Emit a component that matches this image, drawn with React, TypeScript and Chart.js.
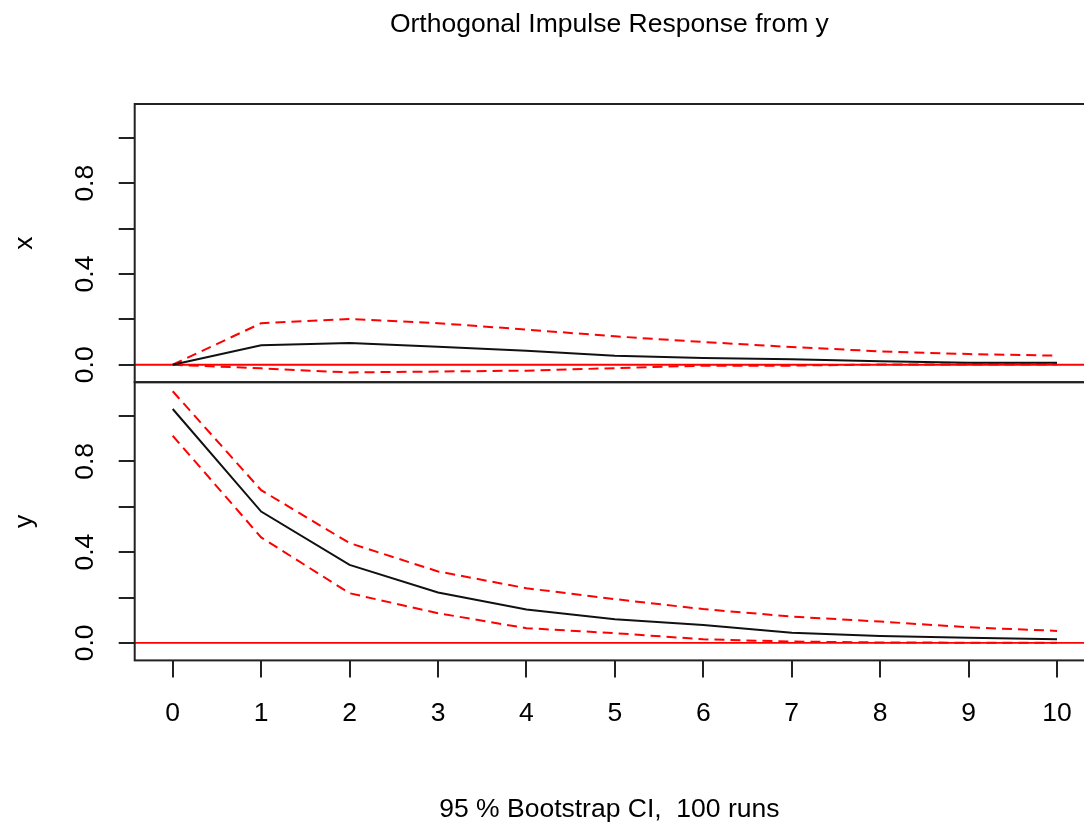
import React, { useEffect, useRef } from 'react';
import { Chart, registerables } from 'chart.js';

Chart.register(...registerables);

// ---------- data ----------
const steps = [0, 1, 2, 3, 4, 5, 6, 7, 8, 9, 10];

// response of x to an orthogonal shock in y
const xResponse = [0, 0.086, 0.096, 0.079, 0.062, 0.040, 0.030, 0.024, 0.015, 0.009, 0.009];
const xUpper = [0, 0.183, 0.202, 0.183, 0.155, 0.125, 0.100, 0.078, 0.059, 0.047, 0.040];
const xLower = [0, -0.016, -0.034, -0.030, -0.026, -0.015, -0.004, -0.004, 0.001, 0.001, 0.001];

// response of y to an orthogonal shock in y
const yResponse = [1.031, 0.579, 0.344, 0.222, 0.147, 0.104, 0.079, 0.045, 0.031, 0.023, 0.016];
const yUpper = [1.109, 0.673, 0.440, 0.315, 0.241, 0.193, 0.149, 0.116, 0.094, 0.069, 0.053];
const yLower = [0.913, 0.465, 0.219, 0.131, 0.065, 0.043, 0.016, 0.006, 0.002, 0.001, 0.001];

const panelNames = ['x', 'y'];
const yLabelValues = [0, 0.4, 0.8];
const mainTitle = 'Orthogonal Impulse Response from y';
const subTitle = '95 % Bootstrap CI,  100 runs';

const FONT = '"Liberation Sans", Arial, Helvetica, sans-serif';
const FS = 26.5;

const Y_MIN = -0.077;
const Y_MAX = 1.149;
const X_MIN = -0.43;
const X_MAX = 10.305;

function series(vals: number[], axis: string, kind: 'irf' | 'ci') {
  return {
    data: steps.map((s, i) => ({ x: s, y: vals[i] })),
    yAxisID: axis,
    borderColor: kind === 'irf' ? '#111111' : '#ff0000',
    borderWidth: 2,
    borderDash: kind === 'irf' ? [] : [10, 6],
    pointRadius: 0,
    tension: 0,
    fill: false,
  };
}

const yAxis = (title: string) => ({
  type: 'linear' as const,
  position: 'left' as const,
  stack: 'irf',
  stackWeight: 1,
  min: Y_MIN,
  max: Y_MAX,
  ticks: {
    stepSize: 0.2,
    includeBounds: false,
    autoSkip: false,
    minRotation: 90,
    maxRotation: 90,
    crossAlign: 'center' as const,
    padding: 14.5,
    color: '#000',
    font: { family: FONT, size: FS },
    callback: (v: number | string) => {
      const n = Number(v);
      return yLabelValues.some((t) => Math.abs(t - n) < 1e-9) ? n.toFixed(1) : '';
    },
  },
  grid: {
    display: true,
    drawOnChartArea: false,
    drawTicks: true,
    tickLength: 16,
    color: '#222',
    lineWidth: 2,
  },
  border: { display: false },
  title: {
    display: true,
    text: title,
    color: '#000',
    font: { family: FONT, size: FS },
    padding: { top: 8.4, bottom: 17.7 },
  },
});

const framePlugin = {
  id: 'irfFrame',
  beforeDatasetsDraw(chart: any) {
    const { ctx, chartArea } = chart;
    ctx.save();
    ctx.strokeStyle = '#ff0000';
    ctx.lineWidth = 1.8;
    ['yx', 'yy'].forEach((id) => {
      const s = chart.scales[id];
      const y = s.getPixelForValue(0);
      ctx.beginPath();
      ctx.moveTo(chartArea.left, y);
      ctx.lineTo(chartArea.right, y);
      ctx.stroke();
    });
    ctx.restore();
  },
  afterDatasetsDraw(chart: any) {
    const { ctx, chartArea } = chart;
    ctx.save();
    ctx.strokeStyle = '#222';
    ctx.lineWidth = 2;
    ['yx', 'yy'].forEach((id) => {
      const s = chart.scales[id];
      ctx.strokeRect(chartArea.left, s.top, chartArea.right - chartArea.left + 5, s.bottom - s.top);
    });
    ctx.restore();
  },
  afterDraw(chart: any) {
    const { ctx, chartArea } = chart;
    ctx.save();
    ctx.fillStyle = '#000';
    ctx.font = `${FS}px ${FONT}`;
    ctx.textAlign = 'center';
    ctx.textBaseline = 'alphabetic';
    ctx.fillText(mainTitle, (chartArea.left + chartArea.right) / 2, 32);
    ctx.restore();
  },
};

export default function App() {
  const ref = useRef<HTMLCanvasElement | null>(null);

  useEffect(() => {
    if (!ref.current) return;
    const chart = new Chart(ref.current, {
      type: 'line',
      data: {
        datasets: [
          series(xResponse, 'yx', 'irf'),
          series(xUpper, 'yx', 'ci'),
          series(xLower, 'yx', 'ci'),
          series(yResponse, 'yy', 'irf'),
          series(yUpper, 'yy', 'ci'),
          series(yLower, 'yy', 'ci'),
        ],
      },
      options: {
        animation: false,
        responsive: false,
        devicePixelRatio: 1,
        layout: { padding: { top: 104, left: 0, right: 0, bottom: 0 } },
        plugins: {
          legend: { display: false },
          tooltip: { enabled: false },
          title: { display: false },
        },
        scales: {
          x: {
            type: 'linear',
            min: X_MIN,
            max: X_MAX,
            afterFit: (scale: any) => {
              scale.paddingLeft = 0;
              scale.paddingRight = 0;
            },
            ticks: {
              stepSize: 1,
              includeBounds: false,
              autoSkip: false,
              maxRotation: 0,
              padding: 20,
              color: '#000',
              font: { family: FONT, size: FS },
              callback: (v: number | string) => {
                const n = Number(v);
                return Number.isInteger(n) ? String(n) : '';
              },
            },
            grid: {
              display: true,
              drawOnChartArea: false,
              drawTicks: true,
              tickLength: 17,
              color: '#222',
              lineWidth: 2,
            },
            border: { display: false },
            title: {
              display: true,
              text: subTitle,
              color: '#000',
              font: { family: FONT, size: FS },
              padding: { top: 45, bottom: 2 },
            },
          },
          yy: yAxis(panelNames[1]),
          yx: yAxis(panelNames[0]),
        },
      } as any,
      plugins: [framePlugin],
    });
    return () => chart.destroy();
  }, []);

  return (
    <div style={{ position: 'absolute', left: 0, top: 0, width: 1084, height: 828, background: '#fff' }}>
      <canvas ref={ref} width={1084} height={828} />
    </div>
  );
}
